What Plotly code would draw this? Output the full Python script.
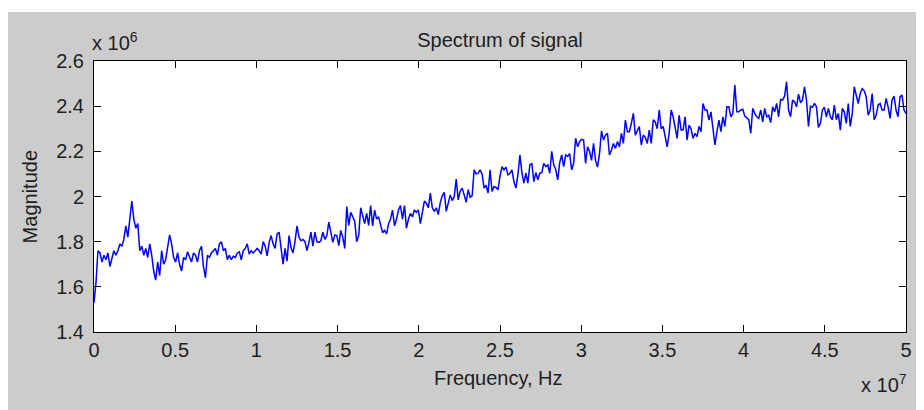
import numpy as np
import plotly.graph_objects as go

# Spectrum magnitude (units of 1e6), evenly spaced bins from 0 to 5e7 Hz
mag_seg1 = [1.53, 1.62, 1.76, 1.75, 1.71, 1.74, 1.72, 1.75, 1.69, 1.73,
            1.76, 1.74, 1.76, 1.79, 1.78, 1.81, 1.87, 1.82, 1.91, 1.98,
            1.90, 1.86, 1.88, 1.76, 1.78, 1.74, 1.77, 1.73, 1.79, 1.74,
            1.67, 1.63, 1.71, 1.65, 1.76, 1.70, 1.72, 1.77, 1.83, 1.79,
            1.73, 1.71, 1.75, 1.70, 1.67, 1.73, 1.72, 1.755, 1.73, 1.71,
            1.75, 1.74, 1.71, 1.76, 1.78, 1.69, 1.64, 1.74, 1.73, 1.75,
            1.76, 1.77, 1.74, 1.79, 1.80, 1.76, 1.77, 1.72, 1.74, 1.72,
            1.735, 1.73, 1.75, 1.755, 1.72, 1.76, 1.77, 1.79, 1.745, 1.76,
            1.75, 1.76, 1.77]
mag_seg2 = [1.76, 1.745, 1.80, 1.78, 1.737, 1.797, 1.827, 1.79, 1.77, 1.834,
            1.842, 1.77, 1.70, 1.77, 1.714, 1.827, 1.774, 1.75, 1.80, 1.87,
            1.82, 1.804, 1.81, 1.80, 1.76, 1.797, 1.842, 1.78, 1.842, 1.80,
            1.797, 1.804, 1.842, 1.81, 1.827, 1.887, 1.834, 1.797, 1.83, 1.827,
            1.782, 1.85, 1.82, 1.77, 1.955, 1.872, 1.93, 1.91, 1.89, 1.80,
            1.827, 1.95, 1.91, 1.88, 1.925, 1.872, 1.96, 1.87, 1.94, 1.90,
            1.91, 1.872, 1.84, 1.85, 1.834, 1.88, 1.90, 1.94, 1.87, 1.90,
            1.94, 1.96, 1.90, 1.96, 1.86, 1.90, 1.925, 1.91, 1.94, 1.93,
            1.94]
mag_seg3 = [1.88, 1.94, 1.98, 1.97, 1.95, 2.015, 1.95, 1.934, 1.95, 1.92,
            1.974, 2.003, 2.018, 1.934, 1.97, 2.007, 1.982, 2.0, 2.077, 1.985,
            2.024, 2.037, 2.007, 1.974, 2.03, 1.997, 2.003, 2.118, 2.10, 2.103,
            2.118, 2.10, 2.037, 2.05, 2.015, 2.118, 2.022, 2.044, 2.04, 2.03,
            2.09, 2.132, 2.118, 2.13, 2.096, 2.103, 2.118, 2.066, 2.037, 2.096,
            2.184, 2.106, 2.059, 2.103, 2.059, 2.14, 2.147, 2.066, 2.106, 2.074,
            2.103, 2.106, 2.147, 2.132, 2.14, 2.103, 2.2, 2.14, 2.12, 2.074,
            2.15, 2.184, 2.132, 2.184, 2.177, 2.19, 2.118, 2.147, 2.258, 2.22]
mag_seg4 = [2.243, 2.253, 2.25, 2.147, 2.22, 2.2, 2.16, 2.235, 2.16, 2.13,
            2.19, 2.29, 2.25, 2.272, 2.28, 2.184, 2.206, 2.235, 2.213, 2.243,
            2.22, 2.28, 2.235, 2.338, 2.287, 2.287, 2.324, 2.368, 2.272, 2.294,
            2.31, 2.228, 2.272, 2.262, 2.235, 2.294, 2.235, 2.34, 2.33, 2.30,
            2.383, 2.30, 2.31, 2.265, 2.22, 2.28, 2.383, 2.353, 2.306, 2.257,
            2.36, 2.294, 2.294, 2.353, 2.25, 2.316, 2.30, 2.257, 2.28, 2.265,
            2.31, 2.287, 2.412, 2.383, 2.383, 2.338, 2.375, 2.31, 2.228, 2.287,
            2.338, 2.287, 2.353, 2.31, 2.397, 2.397, 2.353, 2.368, 2.493, 2.375,
            2.375, 2.383]
mag_seg5 = [2.386, 2.356, 2.346, 2.34, 2.28, 2.39, 2.368, 2.353, 2.346, 2.383,
            2.33, 2.39, 2.353, 2.36, 2.327, 2.397, 2.375, 2.412, 2.353, 2.43,
            2.427, 2.445, 2.508, 2.383, 2.353, 2.427, 2.42, 2.397, 2.453, 2.415,
            2.427, 2.486, 2.427, 2.31, 2.40, 2.395, 2.412, 2.397, 2.306, 2.324,
            2.383, 2.395, 2.353, 2.39, 2.353, 2.34, 2.405, 2.34, 2.368, 2.294,
            2.39, 2.375, 2.324, 2.412, 2.31, 2.368, 2.486, 2.449, 2.412, 2.456,
            2.478, 2.468, 2.442, 2.36, 2.383, 2.456, 2.34, 2.36, 2.405, 2.412,
            2.383, 2.383, 2.434, 2.397, 2.346, 2.427, 2.445, 2.383, 2.353, 2.442,
            2.449, 2.383, 2.368]

magnitude_millions = mag_seg1 + mag_seg2 + mag_seg3 + mag_seg4 + mag_seg5
freq_start_hz = 0.0
freq_stop_hz = 5e7

x_tick_vals = [0, 0.5e7, 1e7, 1.5e7, 2e7, 2.5e7, 3e7, 3.5e7, 4e7, 4.5e7, 5e7]
x_tick_text = ["0", "0.5", "1", "1.5", "2", "2.5", "3", "3.5", "4", "4.5", "5"]
y_tick_vals = [1.4e6, 1.6e6, 1.8e6, 2.0e6, 2.2e6, 2.4e6, 2.6e6]
y_tick_text = ["1.4", "1.6", "1.8", "2", "2.2", "2.4", "2.6"]

magnitude = np.array(magnitude_millions) * 1e6
freq = np.linspace(freq_start_hz, freq_stop_hz, len(magnitude))

# the page body has an 8px margin: the figure sits at (8, 8) in the 924x410 window
OFF = 8
W, H = 924 - OFF, 410 - OFF
# plot area in page pixels: x 94..911, y 61..332
L, R, T, B = 94 - OFF, W - (911 - OFF), 61 - OFF, H - (332 - OFF)
pw, ph = W - L - R, H - T - B

def px_x(p):  # page x -> paper x
    return (p - OFF - L) / pw

def px_y(p):  # page y -> paper y
    return (H - B - (p - OFF)) / ph

FONT = "Liberation Sans, Arial, Helvetica, sans-serif"
TXT = "#1e1e1e"
FS = 20

fig = go.Figure()
fig.add_trace(go.Scatter(x=freq, y=magnitude, mode="lines",
                         line=dict(color="#0000ff", width=1.5),
                         showlegend=False, hoverinfo="skip"))

axis_common = dict(showgrid=False, zeroline=False, showline=True, linecolor="#000000",
                   linewidth=1, mirror="ticks", ticks="inside", ticklen=7,
                   tickcolor="#000000", tickwidth=1, ticklabeloverflow="allow",
                   tickfont=dict(family=FONT, size=FS, color=TXT))

fig.update_xaxes(range=[0, 5e7], tickvals=x_tick_vals, ticktext=x_tick_text,
                 ticklabelstandoff=0, **axis_common)
fig.update_yaxes(range=[1.4e6, 2.6e6], tickvals=y_tick_vals, ticktext=y_tick_text,
                 ticklabelstandoff=5, **axis_common)

fig.update_layout(
    width=W, height=H,
    margin=dict(l=L, r=R, t=T, b=B, pad=0),
    paper_bgcolor="#cccccc",
    plot_bgcolor="#ffffff",
    font=dict(family=FONT, size=FS, color=TXT),
    title=dict(text="Spectrum of signal", x=0.5, xref="paper", xanchor="center",
               y=1 - (40 - OFF) / H, yref="container", yanchor="middle",
               font=dict(family=FONT, size=FS, color=TXT)),
    shapes=[
        dict(type="rect", xref="paper", yref="paper", layer="below",
             x0=px_x(0), x1=px_x(930), y0=px_y(12), y1=px_y(0),
             fillcolor="#ffffff", line=dict(width=0)),
    ],
    annotations=[
        dict(text="Magnitude", textangle=-90, xref="paper", yref="paper",
             x=px_x(30), y=px_y(197), xanchor="center", yanchor="middle",
             showarrow=False, font=dict(family=FONT, size=FS, color=TXT)),
        dict(text="Frequency, Hz", xref="paper", yref="paper",
             x=px_x(501), y=px_y(378), xanchor="center", yanchor="middle",
             showarrow=False, font=dict(family=FONT, size=FS, color=TXT)),
        dict(text="x 10<sup>6</sup>", xref="paper", yref="paper",
             x=px_x(90), y=px_y(56), xanchor="left", yanchor="bottom",
             showarrow=False, font=dict(family=FONT, size=FS, color=TXT)),
        dict(text="x 10<sup>7</sup>", xref="paper", yref="paper",
             x=px_x(914), y=px_y(398), xanchor="right", yanchor="bottom",
             showarrow=False, font=dict(family=FONT, size=FS, color=TXT)),
    ],
)

fig.write_html("out.html")
